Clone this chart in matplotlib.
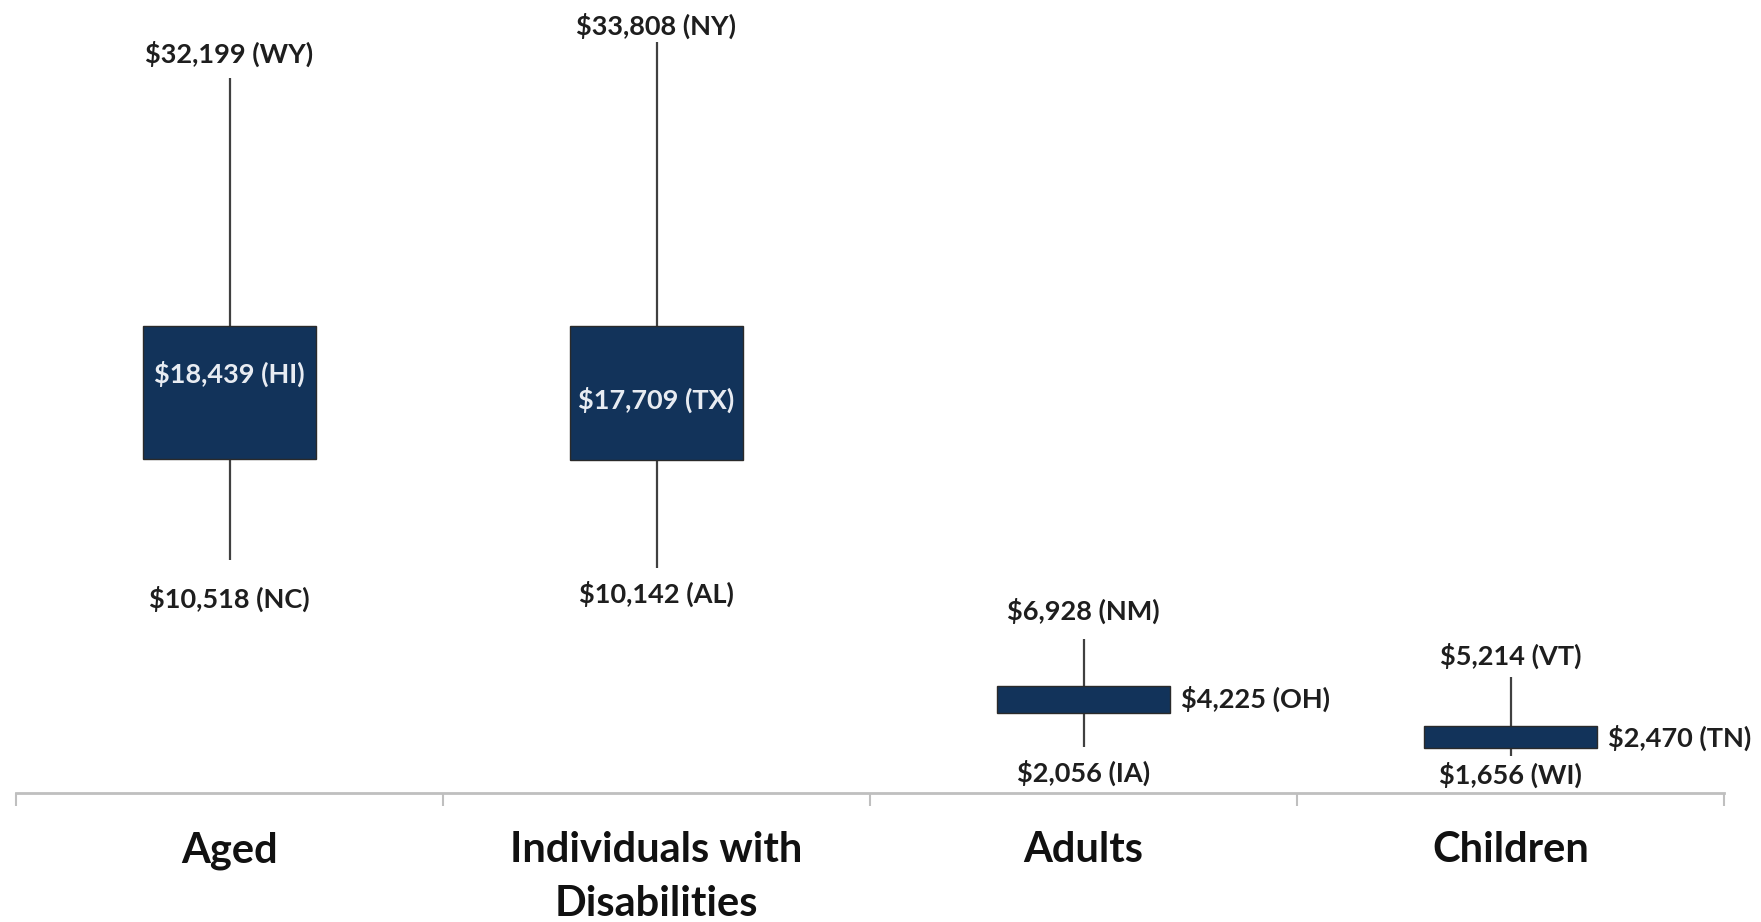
import numpy as np
import matplotlib.pyplot as plt

# spending per enrollee, by eligibility group
categories = ["Aged", "Individuals with\nDisabilities", "Adults", "Children"]
max_vals = [32199, 33808, 6928, 5214]
max_states = ["WY", "NY", "NM", "VT"]
min_vals = [10518, 10142, 2056, 1656]
min_states = ["NC", "AL", "IA", "WI"]
med_vals = [18439, 17709, 4225, 2470]
med_states = ["HI", "TX", "OH", "TN"]
box_low = [15045, 15000, 3604, 2027]
box_high = [21036, 21036, 4820, 3018]

navy = "#12335a"
line_col = "#404040"
text_col = "#1e1e1e"
px = 72 / 100  # pixel -> point at dpi 100

plt.rcParams['font.family'] = ['Lato', 'DejaVu Sans']

fig = plt.figure(figsize=(17.61, 9.22), dpi=100)
ax = fig.add_axes([16 / 1761, 1 - 793 / 922, (1724 - 16) / 1761, 793 / 922])

x = np.arange(len(categories)) + 0.5
box_w = 0.405

# whiskers
ax.vlines(x, min_vals, max_vals, color=line_col, lw=1.6, zorder=1)
# boxes
ax.bar(x, np.array(box_high) - np.array(box_low), bottom=box_low, width=box_w,
       color=navy, edgecolor="#2a2a2a", linewidth=1.0, zorder=2)

# offsets of the labels in pixels (label centre to line end)
max_off = [24, 17, 28, 21]
min_off = [39, 26, 26, 19]
fs = 19.5

for i in range(len(x)):
    ax.annotate(f"${max_vals[i]:,} ({max_states[i]})", (x[i], max_vals[i]),
                xytext=(0, max_off[i] * px), textcoords="offset points",
                ha="center", va="center", fontsize=fs, fontweight="bold", color=text_col)
    ax.annotate(f"${min_vals[i]:,} ({min_states[i]})", (x[i], min_vals[i]),
                xytext=(0, -min_off[i] * px), textcoords="offset points",
                ha="center", va="center", fontsize=fs, fontweight="bold", color=text_col)

# median labels: inside the tall boxes, to the right of the flat ones
ax.annotate(f"${med_vals[0]:,} ({med_states[0]})", (x[0], med_vals[0]),
            xytext=(0, 10 * px), textcoords="offset points",
            ha="center", va="center", fontsize=fs, fontweight="bold", color="#e8ecf2")
ax.annotate(f"${med_vals[1]:,} ({med_states[1]})", (x[1], med_vals[1]),
            ha="center", va="center", fontsize=fs, fontweight="bold", color="#e8ecf2")
for i in (2, 3):
    ax.annotate(f"${med_vals[i]:,} ({med_states[i]})", (x[i] + box_w / 2, med_vals[i]),
                xytext=(11 * px, 0), textcoords="offset points",
                ha="left", va="center", fontsize=fs, fontweight="bold", color=text_col)

ax.set_xlim(0, len(categories))
ax.set_ylim(0, 793 / 0.0222)

for s in ["top", "right", "left"]:
    ax.spines[s].set_visible(False)
ax.spines["bottom"].set_color("#bfbfbf")
ax.spines["bottom"].set_linewidth(2)
ax.set_yticks([])

ax.set_xticks(np.arange(len(categories) + 1))
ax.set_xticklabels([])
ax.tick_params(axis="x", which="major", length=13 * px, width=1.5, color="#bfbfbf")
ax.set_xticks(x, minor=True)
ax.set_xticklabels(categories, minor=True, fontsize=30, fontweight="bold",
                   color="#111111", linespacing=1.5)
ax.tick_params(axis="x", which="minor", length=0, pad=38 * px)

fig.savefig("out.png", dpi=100)
